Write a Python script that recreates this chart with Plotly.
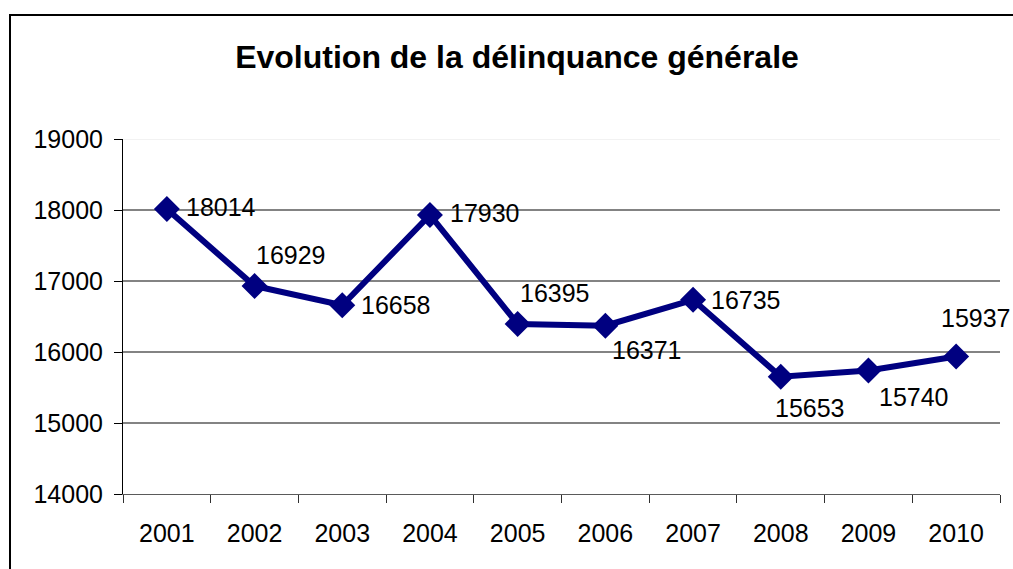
import plotly.graph_objects as go

years = ["2001", "2002", "2003", "2004", "2005", "2006", "2007", "2008", "2009", "2010"]
values = [18014, 16929, 16658, 17930, 16395, 16371, 16735, 15653, 15740, 15937]
y_ticks = [14000, 15000, 16000, 17000, 18000, 19000]

# label offsets in pixels (dx to the right, dy upward) relative to each point
label_dx = [17, -1, 17, 18, 0, 5, 16, -8, 9, -17]
label_dy = [2, 31, 0, 2, 31, -24, 0, -31, -27, 38]

FONT = "Liberation Sans, Arial, sans-serif"
NAVY = "#000080"
FS = 25

fig = go.Figure()
fig.add_trace(go.Scatter(
    x=years, y=values, mode="lines+markers",
    line=dict(color=NAVY, width=6),
    marker=dict(symbol="diamond", size=20, color=NAVY),
    hoverinfo="x+y", showlegend=False,
))

for i, (v, dx, dy) in enumerate(zip(values, label_dx, label_dy)):
    fig.add_annotation(
        x=i, y=v, xref="x", yref="y", text=str(v), showarrow=False,
        xanchor="left", yanchor="middle", xshift=dx, yshift=dy,
        font=dict(family=FONT, size=FS, color="black"),
    )

# horizontal gridlines
for t in y_ticks[1:]:
    fig.add_shape(
        type="line", xref="paper", yref="y", x0=0, x1=1, y0=t, y1=t,
        line=dict(color="#eeeeee" if t == y_ticks[-1] else "#5a5a5a", width=1.3),
        layer="below",
    )

# chart border (extends past right/bottom edges like the reference)
fig.add_shape(
    type="rect", xref="paper", yref="paper",
    x0=(10 - 123) / 877, x1=(1030 - 123) / 877,
    y0=(494 - 600) / 355, y1=(494 - 15) / 355,
    line=dict(color="black", width=2), fillcolor="rgba(0,0,0,0)",
)

fig.update_layout(
    width=1013, height=569,
    margin=dict(l=123, r=13, t=139, b=75),
    paper_bgcolor="white", plot_bgcolor="white",
    title=dict(
        text="<b>Evolution de la délinquance générale</b>",
        x=517 / 1013, xanchor="center", xref="container",
        y=1 - 57 / 569, yanchor="middle",
        font=dict(family=FONT, size=32, color="black"),
    ),
    font=dict(family=FONT, size=FS, color="black"),
    hovermode="closest",
    xaxis=dict(
        type="category", range=[-0.5, 9.5],
        showline=True, linecolor="#5a5a5a", linewidth=1.3,
        ticks="outside", ticklen=8, tickcolor="#303030", tickson="boundaries",
        showgrid=False, tickfont=dict(family=FONT, size=FS, color="black"),
        ticklabelstandoff=17, fixedrange=True,
    ),
    yaxis=dict(
        range=[14000, 19000], tickvals=y_ticks, tickformat="d",
        showline=True, linecolor="black", linewidth=1,
        ticks="outside", ticklen=8, tickcolor="black",
        showgrid=False, zeroline=False,
        tickfont=dict(family=FONT, size=FS, color="black"),
        ticklabelstandoff=6, fixedrange=True,
    ),
)

fig.write_html(
    "out.html",
    config={"displayModeBar": False},
    post_script="document.body.style.margin='0px';",
)
